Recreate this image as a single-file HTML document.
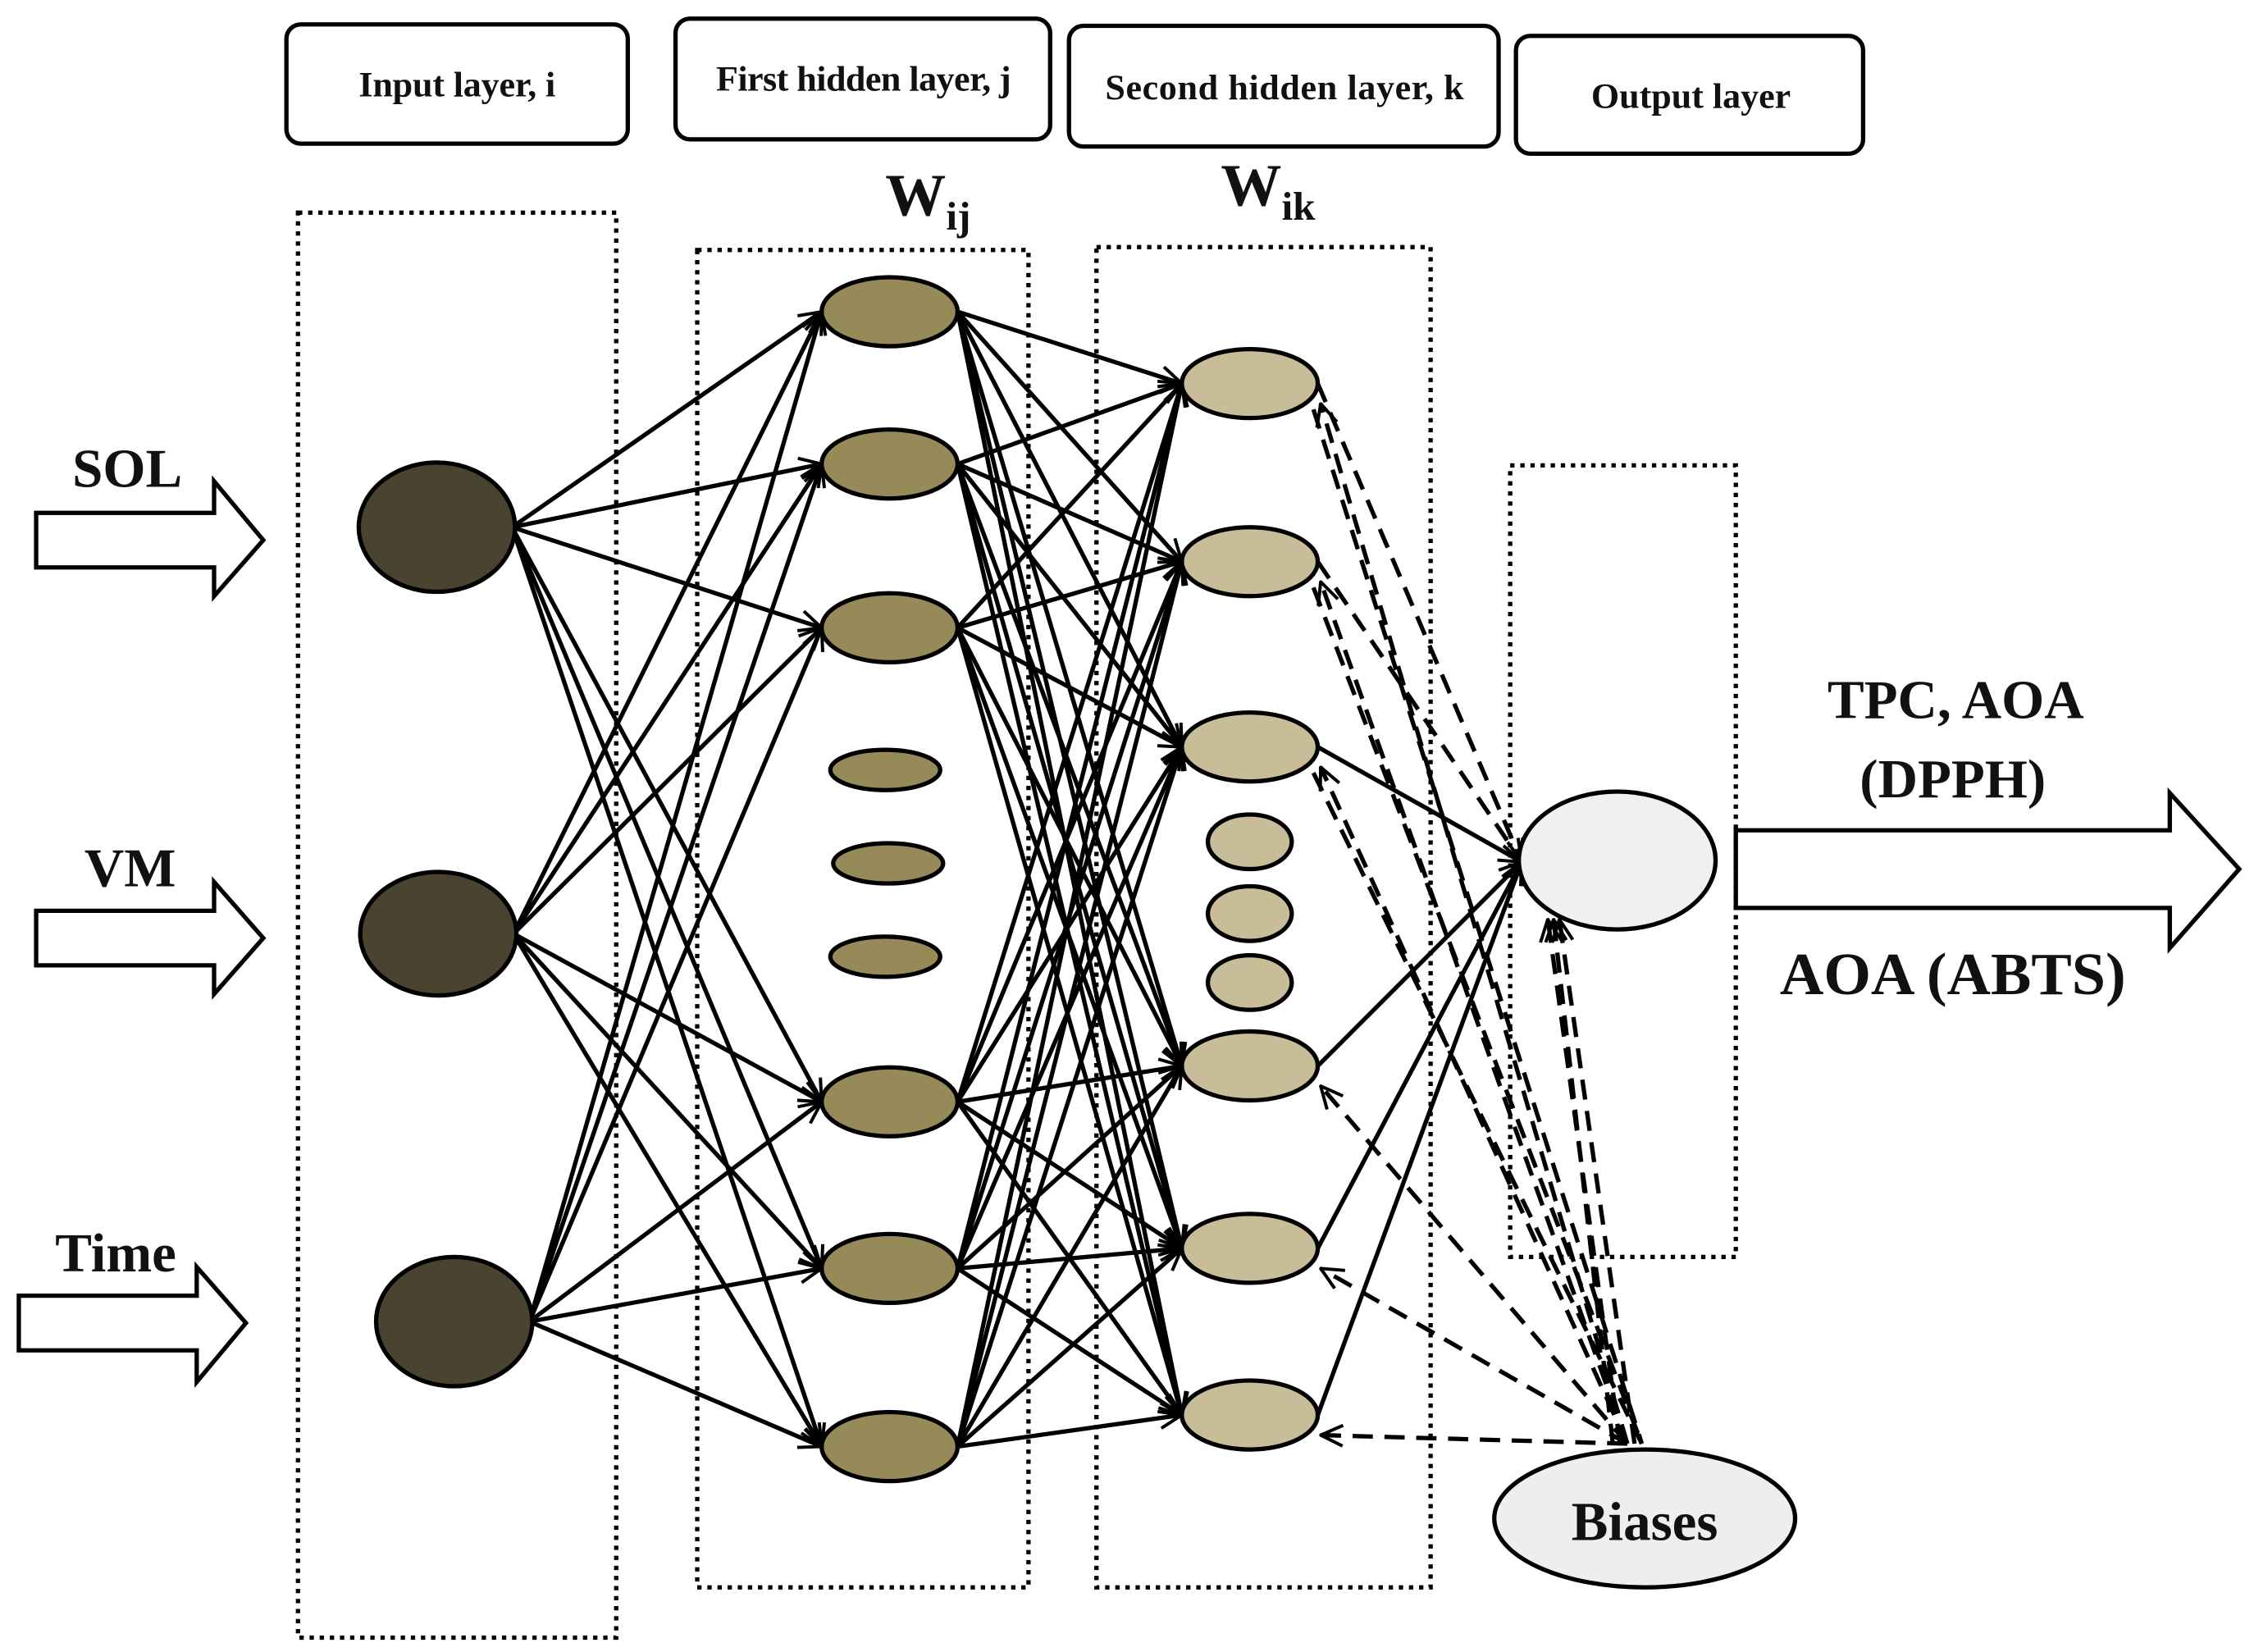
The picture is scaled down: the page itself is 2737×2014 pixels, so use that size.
<!DOCTYPE html>
<html><head><meta charset="utf-8"><style>
html,body{margin:0;padding:0;background:#fff}
svg{display:block}
text{font-family:"Liberation Serif",serif;font-weight:bold;fill:#111}
</style></head><body>
<svg id="s" width="2737" height="2014" viewBox="0 0 1552 1150" preserveAspectRatio="none" xmlns="http://www.w3.org/2000/svg">
<defs>
<marker id="ah" viewBox="0 0 10 10" refX="9" refY="5" markerWidth="7" markerHeight="7" orient="auto" markerUnits="userSpaceOnUse">
<path d="M0,0 L10,5 L0,10" fill="none" stroke="#000" stroke-width="2"/>
</marker>
<marker id="ah2" viewBox="0 0 20 20" refX="19" refY="10" markerWidth="18" markerHeight="18" orient="auto" markerUnits="userSpaceOnUse">
<path d="M2,2 L19,10 L2,18" fill="none" stroke="#000" stroke-width="2.5"/>
</marker>
</defs>
<rect width="1552" height="1150" fill="#fff"/>
<g fill="#fff" stroke="#000" stroke-width="3">
<rect x="198" y="17" width="236" height="83" rx="10"/>
<rect x="467" y="13" width="259" height="84" rx="10"/>
<rect x="739" y="18" width="297" height="84" rx="10"/>
<rect x="1048" y="25" width="240" height="82" rx="10"/>
</g>
<text x="316" y="67" font-size="25" text-anchor="middle" textLength="136">Input layer, i</text>
<text x="597" y="63" font-size="25" text-anchor="middle" textLength="204">First hidden layer, j</text>
<text x="888" y="69" font-size="25" text-anchor="middle" textLength="248">Second hidden layer, k</text>
<text x="1169" y="75" font-size="25" text-anchor="middle" textLength="138">Output layer</text>
<g fill="none" stroke="#000" stroke-width="3" stroke-dasharray="3,4">
<rect x="206" y="148" width="220" height="992"/>
<rect x="482" y="174" width="229" height="931"/>
<rect x="758" y="172" width="231" height="933"/>
<rect x="1044" y="324" width="156" height="551"/>
</g>
<text x="612" y="150" font-size="42">W<tspan font-size="28" dy="10">ij</tspan></text>
<text x="844" y="143" font-size="42">W<tspan font-size="28" dy="10">ik</tspan></text>
<g id="edges"></g>
<g id="nodes" stroke="#000" stroke-width="3"></g>
<g fill="#fff" stroke="#000" stroke-width="3">
<path d="M25,357 H148 V335 L182,376 L148,415 V395 H25 Z"/>
<path d="M25,634 H148 V614 L182,653 L148,692 V672 H25 Z"/>
<path d="M13,902 H136 V882 L170,921 L136,962 V940 H13 Z"/>
<path d="M1200,578 H1500 V552 L1548,605 L1500,660 V632 H1200 Z"/>
</g>
<text x="88" y="339" font-size="38" text-anchor="middle">SOL</text>
<text x="90" y="617" font-size="38" text-anchor="middle">VM</text>
<text x="80" y="885" font-size="38" text-anchor="middle">Time</text>
<text x="1352" y="500" font-size="38" text-anchor="middle">TPC, AOA</text>
<text x="1350" y="555" font-size="38" text-anchor="middle">(DPPH)</text>
<text x="1350" y="692" font-size="42" text-anchor="middle">AOA (ABTS)</text>
<text x="1137" y="1072" font-size="38" text-anchor="middle">Biases</text>
</svg>
<script>
var NS="http://www.w3.org/2000/svg";
var E=document.getElementById("edges"),N=document.getElementById("nodes");
function el(t,a,p){var e=document.createElementNS(NS,t);for(var k in a)e.setAttribute(k,a[k]);p.appendChild(e);return e;}
var inp=[[302,367,54,45],[303,650,54,43],[314,920,54,45]];
var h1=[[615,217],[615,323],[615,437],[615,767],[615,883],[615,1007]];
var h2=[[864,267],[864,391],[864,520],[864,742],[864,869],[864,985]];
function line(x1,y1,x2,y2,dash,m){var a={x1:x1,y1:y1,x2:x2,y2:y2,stroke:"#000","stroke-width":3};if(m!=="none")a["marker-end"]="url(#"+(m||"ah2")+")";if(dash)a["stroke-dasharray"]="14,8";el("line",a,E);}
inp.forEach(function(a){h1.forEach(function(b){line(a[0]+a[2]-2,a[1],b[0]-47,b[1]);});});
h1.forEach(function(a){h2.forEach(function(b){line(a[0]+47,a[1],b[0]-47,b[1]);});});
h2.forEach(function(a,i){line(a[0]+47,a[1],1052,600,i<2);});
h2.forEach(function(a,i){line(1125,1005,a[0]+49,a[1]+14,true);});
[[1120,1005],[1115,1005],[1130,1005]].forEach(function(p,i){line(p[0],p[1],1070+i*4,640,true);});
h2.slice(0,3).forEach(function(a){line(a[0]+44,a[1]+18,1135,1005,true,"none");});
inp.forEach(function(a){el("ellipse",{cx:a[0],cy:a[1],rx:a[2],ry:a[3],fill:"#4a4330"},N);});
h1.forEach(function(a){el("ellipse",{cx:a[0],cy:a[1],rx:47,ry:24,fill:"#958a58"},N);});
[[612,536],[614,601],[612,666]].forEach(function(a){el("ellipse",{cx:a[0],cy:a[1],rx:38,ry:14,fill:"#958a58"},N);});
h2.forEach(function(a){el("ellipse",{cx:a[0],cy:a[1],rx:47,ry:24,fill:"#c8bd98"},N);});
[[864,586],[864,636],[864,684]].forEach(function(a){el("ellipse",{cx:a[0],cy:a[1],rx:29,ry:19,fill:"#c8bd98"},N);});
el("ellipse",{cx:1118,cy:599,rx:68,ry:48,fill:"#f0f0f0"},N);
el("ellipse",{cx:1137,cy:1057,rx:104,ry:48,fill:"#eeeeee"},N);
</script>
</body></html>
